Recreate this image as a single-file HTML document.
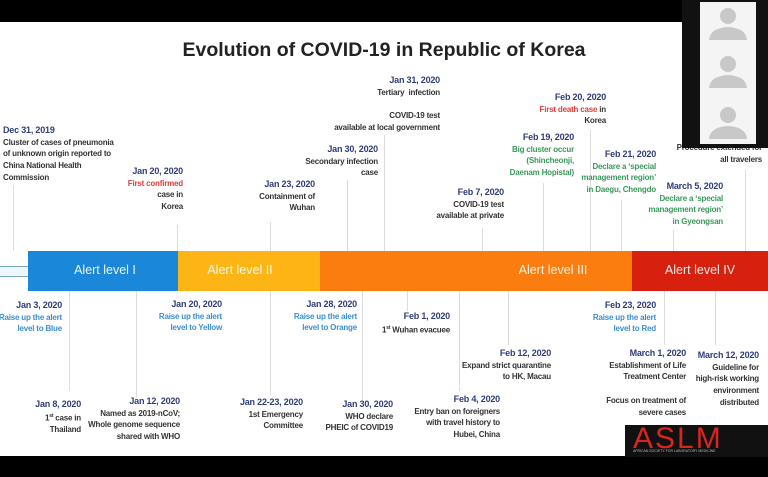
<!DOCTYPE html><html><head><meta charset="utf-8"><style>
body{margin:0;width:768px;height:477px;position:relative;overflow:hidden;background:#fff;font-family:"Liberation Sans",sans-serif}
.t{position:absolute;font-size:8px;font-weight:bold;line-height:11.7px;color:#333;white-space:nowrap;letter-spacing:-0.2px}
.r{text-align:right;transform:translateX(-100%)}
.d{color:#2f3d7a;font-size:9px}
.b{color:#3a8fd0}.re{color:#e03b3b}.g{color:#3a9a5a}
.v{position:absolute;width:1px;background:#ddd}
.al{position:absolute;top:263px;color:#fff;font-size:12.5px;transform:translateX(-50%);white-space:nowrap;opacity:.9}
</style></head><body>
<div style="position:absolute;left:0;top:0;width:768px;height:22px;background:#000"></div>
<div style="position:absolute;left:0;top:456px;width:768px;height:21px;background:#000"></div>
<div style="position:absolute;left:182px;top:39px;width:404px;text-align:center;font-size:19.5px;font-weight:bold;color:#222;white-space:nowrap">Evolution of COVID-19 in Republic of Korea</div>
<!-- bar -->
<div style="position:absolute;left:0;top:266px;width:28px;height:9px;border:1px solid #7ab;border-left:none;background:#eef5fb"></div>
<div style="position:absolute;left:28px;top:251px;width:150px;height:40px;background:#1a87d8"></div>
<div style="position:absolute;left:178px;top:251px;width:142px;height:40px;background:#fdb515"></div>
<div style="position:absolute;left:320px;top:251px;width:312px;height:40px;background:#fb7d0f"></div>
<div style="position:absolute;left:632px;top:251px;width:136px;height:40px;background:#d8200e"></div>
<div class="al" style="left:105px">Alert level I</div>
<div class="al" style="left:240px">Alert level II</div>
<div class="al" style="left:553px">Alert level III</div>
<div class="al" style="left:700px">Alert level IV</div>
<!-- vertical lines top -->
<div class="v" style="left:13px;top:185px;height:66px"></div>
<div class="v" style="left:177px;top:225px;height:26px"></div>
<div class="v" style="left:270px;top:222px;height:29px"></div>
<div class="v" style="left:347px;top:180px;height:71px"></div>
<div class="v" style="left:384px;top:135px;height:116px"></div>
<div class="v" style="left:482px;top:228px;height:23px"></div>
<div class="v" style="left:543px;top:183px;height:68px"></div>
<div class="v" style="left:590px;top:130px;height:121px"></div>
<div class="v" style="left:621px;top:200px;height:51px"></div>
<div class="v" style="left:673px;top:230px;height:21px"></div>
<div class="v" style="left:745px;top:170px;height:81px"></div>
<!-- vertical lines bottom -->
<div class="v" style="left:69px;top:291px;height:100px"></div>
<div class="v" style="left:136px;top:291px;height:107px"></div>
<div class="v" style="left:270px;top:291px;height:104px"></div>
<div class="v" style="left:362px;top:291px;height:109px"></div>
<div class="v" style="left:407px;top:291px;height:20px"></div>
<div class="v" style="left:459px;top:291px;height:100px"></div>
<div class="v" style="left:508px;top:291px;height:54px"></div>
<div class="v" style="left:664px;top:291px;height:54px"></div>
<div class="v" style="left:715px;top:291px;height:54px"></div>
<!-- top texts -->
<div class="t" style="left:3px;top:125px"><span class="d">Dec 31, 2019</span><br>Cluster of cases of pneumonia<br>of unknown origin reported to<br>China National Health<br>Commission</div>
<div class="t r" style="left:183px;top:166px"><span class="d">Jan 20, 2020</span><br><span class="re">First confirmed</span><br>case in<br>Korea</div>
<div class="t r" style="left:315px;top:179px"><span class="d">Jan 23, 2020</span><br>Containment of<br>Wuhan</div>
<div class="t r" style="left:378px;top:144px"><span class="d">Jan 30, 2020</span><br>Secondary infection<br>case</div>
<div class="t r" style="left:440px;top:75px"><span class="d">Jan 31, 2020</span><br>Tertiary &nbsp;infection<br><br>COVID-19 test<br>available at local government</div>
<div class="t r" style="left:504px;top:187px"><span class="d">Feb 7, 2020</span><br>COVID-19 test<br>available at private</div>
<div class="t r g" style="left:574px;top:132px"><span class="d">Feb 19, 2020</span><br>Big cluster occur<br>(Shincheonji,<br>Daenam Hopistal)</div>
<div class="t r" style="left:606px;top:92px"><span class="d">Feb 20, 2020</span><br><span class="re">First death case</span> in<br>Korea</div>
<div class="t r g" style="left:656px;top:149px"><span class="d">Feb 21, 2020</span><br>Declare a ‘special<br>management region’<br>in Daegu, Chengdo</div>
<div class="t r g" style="left:723px;top:181px"><span class="d">March 5, 2020</span><br>Declare a ‘special<br>management region’<br>in Gyeongsan</div>
<div class="t r" style="left:762px;top:142px">Procedure extended for<br>all travelers</div>
<!-- bottom texts -->
<div class="t r b" style="left:62px;top:300px"><span class="d">Jan 3, 2020</span><br>Raise up the alert<br>level to Blue</div>
<div class="t r" style="left:81px;top:399px"><span class="d">Jan 8, 2020</span><br>1<sup style="font-size:5px">st</sup> case in<br>Thailand</div>
<div class="t r" style="left:180px;top:396px"><span class="d">Jan 12, 2020</span><br>Named as 2019-nCoV;<br>Whole genome sequence<br>shared with WHO</div>
<div class="t r b" style="left:222px;top:299px"><span class="d">Jan 20, 2020</span><br>Raise up the alert<br>level to Yellow</div>
<div class="t r" style="left:303px;top:397px"><span class="d">Jan 22-23, 2020</span><br>1st Emergency<br>Committee</div>
<div class="t r b" style="left:357px;top:299px"><span class="d">Jan 28, 2020</span><br>Raise up the alert<br>level to Orange</div>
<div class="t r" style="left:393px;top:399px"><span class="d">Jan 30, 2020</span><br>WHO declare<br>PHEIC of COVID19</div>
<div class="t r" style="left:450px;top:311px"><span class="d">Feb 1, 2020</span><br>1<sup style="font-size:5px">st</sup> Wuhan evacuee</div>
<div class="t r" style="left:500px;top:394px"><span class="d">Feb 4, 2020</span><br>Entry ban on foreigners<br>with travel history to<br>Hubei, China</div>
<div class="t r" style="left:551px;top:348px"><span class="d">Feb 12, 2020</span><br>Expand strict quarantine<br>to HK, Macau</div>
<div class="t r b" style="left:656px;top:300px"><span class="d">Feb 23, 2020</span><br>Raise up the alert<br>level to Red</div>
<div class="t r" style="left:686px;top:348px"><span class="d">March 1, 2020</span><br>Establishment of Life<br>Treatment Center<br><br>Focus on treatment of<br>severe cases</div>
<div class="t r" style="left:759px;top:350px"><span class="d">March 12, 2020</span><br>Guideline for<br>high-risk working<br>environment<br>distributed</div>
<!-- video panel -->
<div style="position:absolute;left:682px;top:0;width:86px;height:148px;background:#111"></div>
<div style="position:absolute;left:700px;top:2px;width:56px;height:142px;background:#f4f4f4"></div>
<svg style="position:absolute;left:700px;top:0" width="56" height="148">
<g fill="#c8c8c8">
<circle cx="28" cy="16" r="8"/><path d="M9 40 Q10 28 28 27 Q46 28 47 40Z"/>
<circle cx="28" cy="64" r="8"/><path d="M9 88 Q10 76 28 75 Q46 76 47 88Z"/>
<circle cx="28" cy="115" r="8"/><path d="M9 139 Q10 127 28 126 Q46 127 47 139Z"/>
</g></svg>
<!-- ASLM -->
<div style="position:absolute;left:625px;top:425px;width:143px;height:32px;background:#111"></div>
<div style="position:absolute;left:633px;top:422px;font-size:30px;color:#d8251e;letter-spacing:2px;font-family:'Liberation Sans',sans-serif">ASLM</div>
<div style="position:absolute;left:633px;top:449px;font-size:3.5px;color:#bbb;white-space:nowrap">AFRICAN SOCIETY FOR LABORATORY MEDICINE</div>
</body></html>
